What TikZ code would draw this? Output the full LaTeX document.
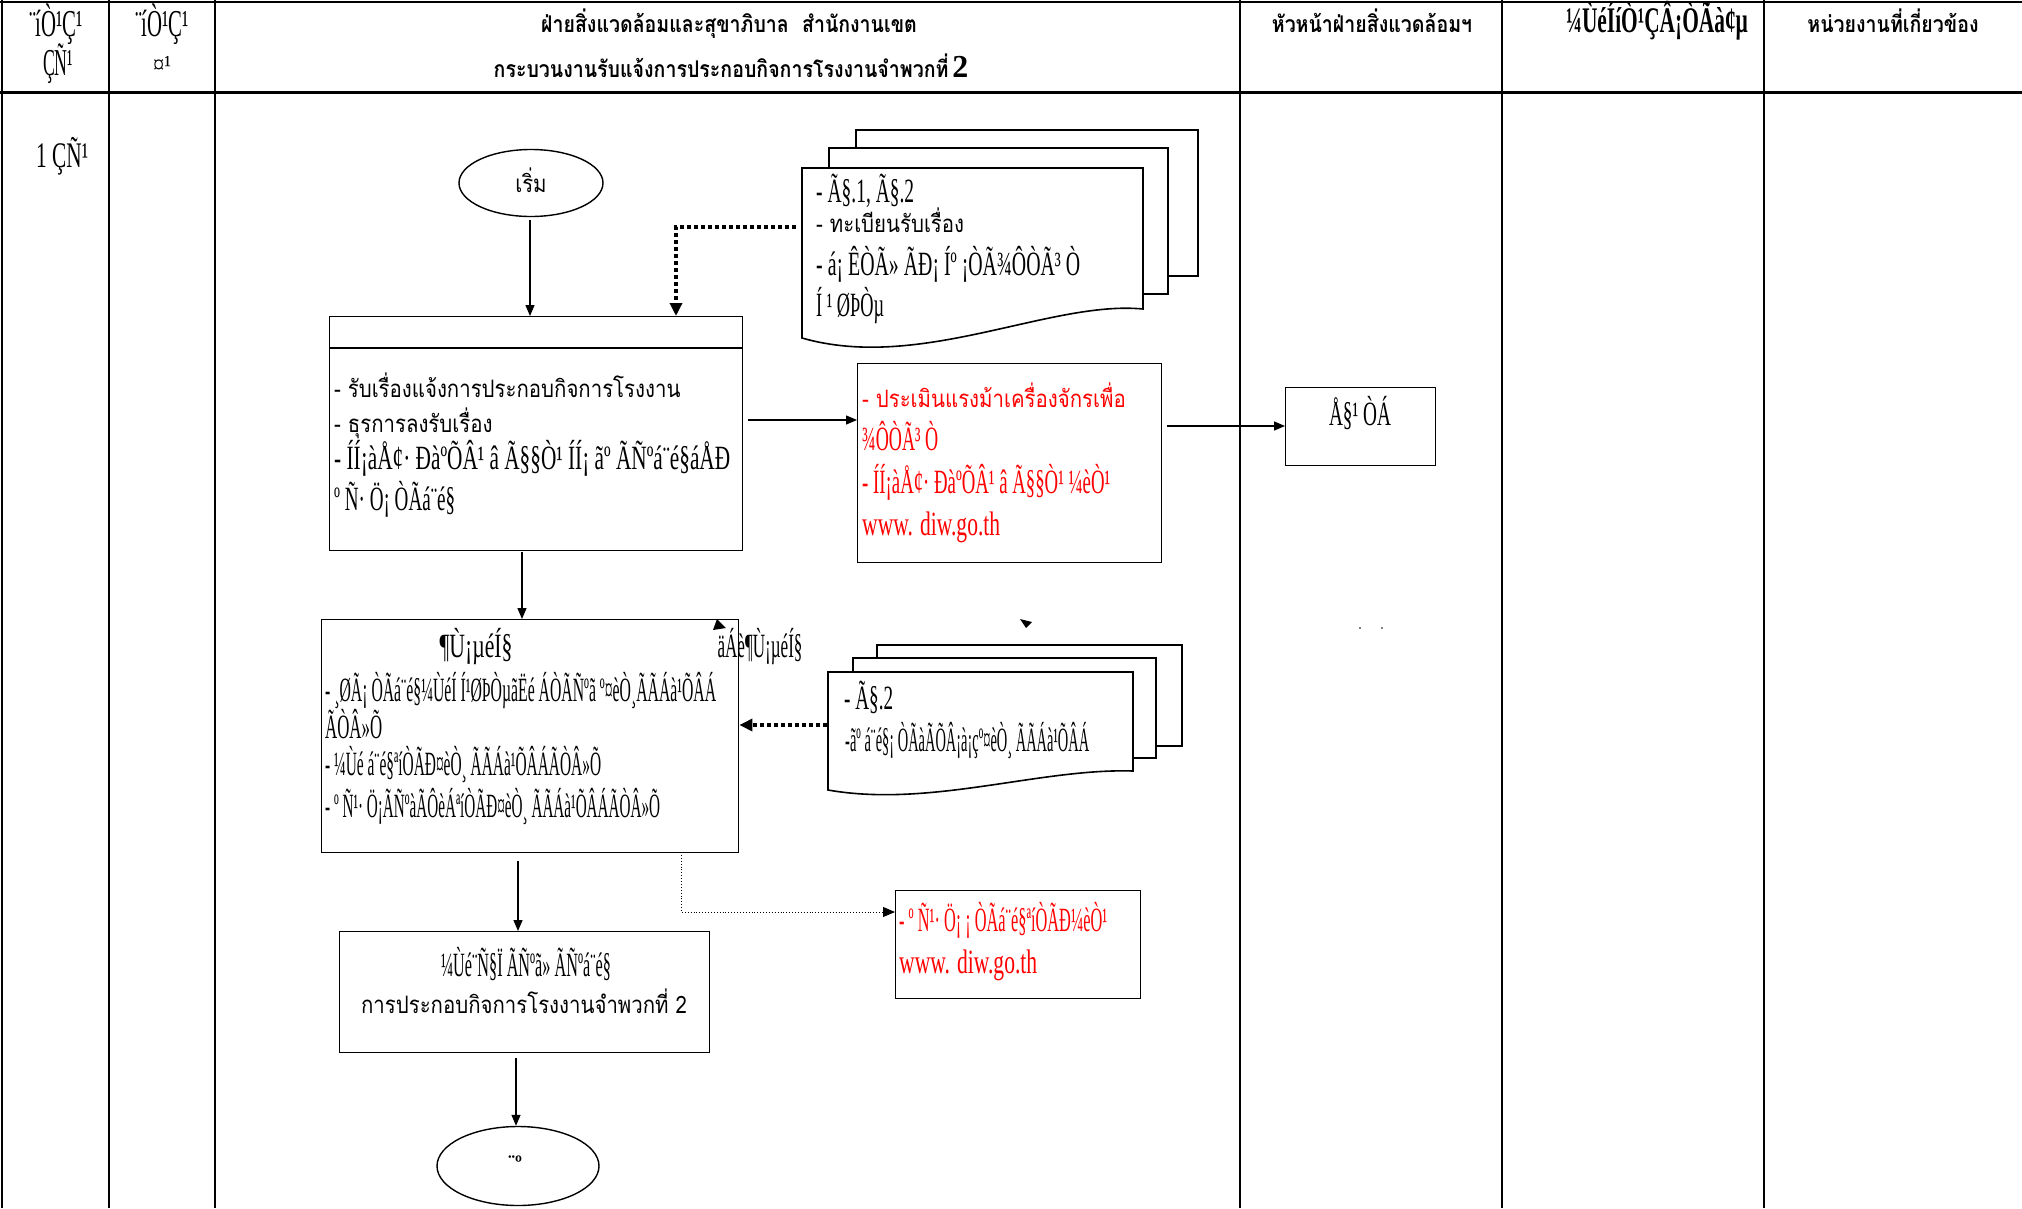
\documentclass[tikz,border=0pt]{standalone}
\usepackage{graphicx}
\usepackage{fontspec}
\setmainfont{Liberation Serif}
\newfontfamily\mjf{Liberation Serif}
\newfontfamily\thf[Script=Thai,FakeStretch=0.85]{Loma}
\usetikzlibrary{arrows.meta,shapes.geometric}
\newcommand{\fw}[2]{\resizebox{#1pt}{\height}{#2}}
\tikzset{
  grid/.style={line width=2pt},
  box/.style={draw, line width=1.4pt, inner sep=0pt, anchor=north west},
  sheet/.style={draw, line width=1.6pt, fill=white},
  ar/.style={line width=1.3pt, -{Triangle[length=11pt,width=9pt]}},
  dar/.style={line width=4pt, dash pattern=on 4pt off 3pt, -{Triangle[length=13pt,width=12pt]}},
  tar/.style={line width=0.9pt, dotted, -{Triangle[length=12pt,width=10pt]}},
  mj/.style={font=\mjf\fontsize{34}{34}\selectfont, inner sep=0pt, anchor=base west},
  th/.style={font=\thf\fontsize{24}{24}\selectfont, inner sep=0pt, anchor=base west},
  thh/.style={font=\thf\bfseries\fontsize{23}{23}\selectfont, inner sep=0pt, anchor=base},
  red/.style={text=red}
}
\begin{document}
\begin{tikzpicture}[x=1pt,y=-1pt]
\useasboundingbox (0,0) rectangle (2022,1208);
% ---- grid ----
\draw[grid] (0,2) -- (2022,2);
\draw[line width=3pt] (0,92) -- (2022,92);
\foreach \xx in {2,109,215,1240,1502,1764} \draw[grid] (\xx,0) -- (\xx,1208);
% ---- header ----
\node[mj, anchor=base, font=\mjf\fontsize{38}{38}\selectfont] (h1a) at (56,36) {\fw{54}{¨íÒ¹Ç¹}};
\node[mj, anchor=base, font=\mjf\fontsize{38}{38}\selectfont] (h1b) at (58,75) {\fw{30}{ÇÑ¹}};
\node[mj, anchor=base, font=\mjf\fontsize{38}{38}\selectfont] (h2a) at (162,36) {\fw{54}{¨íÒ¹Ç¹}};
\node[mj, anchor=base, font=\mjf\fontsize{26}{26}\selectfont] (h2b) at (162,73) {\fw{18}{¤¹}};
\node[thh] (h3a) at (729,32) {ฝ่ายสิ่งแวดล้อมและสุขาภิบาล\ \ สำนักงานเขต};
\node[thh] (h3b) at (731,77) {กระบวนงานรับแจ้งการประกอบกิจการโรงงานจำพวกที่\,{\mjf\bfseries\fontsize{32}{32}\selectfont 2}};
\node[thh] (h4) at (1372,32) {หัวหน้าฝ่ายสิ่งแวดล้อมฯ};
\node[mj, anchor=base, font=\mjf\bfseries\fontsize{36}{36}\selectfont] (h5) at (1657,32) {\fw{182}{¼ÙéÍíÒ¹ÇÂ¡ÒÃà¢µ}};
\node[thh] (h6) at (1893,32) {หน่วยงานที่เกี่ยวข้อง};
\node[mj, font=\mjf\fontsize{36}{36}\selectfont] (r1) at (36,167) {\fw{52}{1 ÇÑ¹}};
% ---- start ----
\node[draw, ellipse, line width=1.4pt, minimum width=144pt, minimum height=67pt, inner sep=0pt] (st) at (531,183) {};
\node[th, anchor=base] (stt) at (531,192) {เริ่ม};
% ---- document stack 1 ----
\draw[sheet] (856,130) rectangle (1198,276);
\draw[sheet] (829,148) rectangle (1168,294);
\draw[sheet] (802,168) -- (1143,168) -- (1143,309) .. controls (1050,300) and (920,372) .. (802,338) -- cycle;
\coordinate (d1) at (796,227);
\node[mj] (d1a) at (816,202) {\fw{98}{- Ã§.1, Ã§.2}};
\node[th] (d1b) at (816,232) {- ทะเบียนรับเรื่อง};
\node[mj] (d1c) at (816,275) {\fw{264}{- á¡ ÊÒÃ» ÃÐ¡ Íº ¡ÒÃ¾ÔÒÃ³ Ò}};
\node[mj] (d1d) at (816,316) {\fw{68}{Í ¹ ØÞÒµ}};
% ---- box 1 ----
\node[box, minimum width=413pt, minimum height=234pt] (b1) at (329,316) {};
\draw[line width=1.4pt] (329,348) -- (742,348);
\node[th] (b1a) at (334,397) {- รับเรื่องแจ้งการประกอบกิจการโรงงาน};
\node[th] (b1b) at (334,432) {- ธุรการลงรับเรื่อง};
\node[mj] (b1c) at (334,469) {\fw{396}{- ÍÍ¡àÅ¢· ÐàºÕÂ¹ â Ã§§Ò¹ ÍÍ¡ ãº ÃÑºá¨é§áÅÐ}};
\node[mj] (b1d) at (334,510) {\fw{121}{º Ñ· Ö¡ ÒÃá¨é§}};
% ---- red box 1 ----
\node[box, minimum width=304pt, minimum height=199pt] (rb1) at (857,363) {};
\node[th, red] (rb1a) at (862,407) {- ประเมินแรงม้าเครื่องจักรเพื่อ};
\node[mj, red] (rb1b) at (862,450) {\fw{76}{¾ÔÒÃ³ Ò}};
\node[mj, red] (rb1c) at (862,493) {\fw{248}{- ÍÍ¡àÅ¢· ÐàºÕÂ¹ â Ã§§Ò¹ ¼èÒ¹}};
\node[mj, red] (rb1d) at (862,535) {\fw{138}{www. diw.go.th}};
% ---- sign box ----
\node[box, minimum width=150pt, minimum height=78pt] (lg) at (1285,387) {};
\node[mj, anchor=base] (lgt) at (1360,425) {\fw{62}{Å§¹ ÒÁ}};
% ---- box 2 ----
\node[box, minimum width=417pt, minimum height=233pt] (b2) at (321,619) {};
\node[mj, anchor=base] (b2t) at (476,657) {\fw{73}{¶Ù¡µéÍ§}};
\node[mj, anchor=base] (b2n) at (760,657) {\fw{85}{äÁè¶Ù¡µéÍ§}};
\node[mj] (b2a) at (325,701) {\fw{391}{- ¸ØÃ¡ ÒÃá¨é§¼ÙéÍ Í¹ØÞÒµãËé ÁÒÃÑºã º¤èÒ¸ÃÃÁà¹ÕÂÁ}};
\node[mj] (b2b) at (325,738) {\fw{57}{ÃÒÂ»Õ}};
\node[mj] (b2c) at (325,775) {\fw{276}{- ¼Ùé á¨é§ªíÒÃÐ¤èÒ¸ ÃÃÁà¹ÕÂÁÃÒÂ»Õ}};
\node[mj] (b2d) at (325,817) {\fw{335}{- º Ñ¹· Ö¡ÃÑºàÃÔèÁªíÒÃÐ¤èÒ¸ ÃÃÁà¹ÕÂÁÃÒÂ»Õ}};
\fill (713,630) -- (726,628) -- (717,619) -- cycle;
\fill (1020,619) -- (1032,622) -- (1026,628) -- cycle;
\fill[gray] (1359,627) rectangle (1361,629);
\fill[gray] (1381,627) rectangle (1383,629);
% ---- document stack 2 ----
\draw[sheet] (877,645) rectangle (1182,746);
\draw[sheet] (853,658) rectangle (1156,758);
\draw[sheet] (828,672) -- (1133,672) -- (1133,771) .. controls (1040,768) and (930,808) .. (828,790) -- cycle;
\coordinate (d2) at (827,725);
\node[mj] (d2a) at (844,709) {\fw{49}{- Ã§.2}};
\node[mj] (d2b) at (845,751) {\fw{244}{-ãº á¨é§¡ ÒÃàÃÕÂ¡à¡çº¤èÒ¸ ÃÃÁà¹ÕÂÁ}};
% ---- red box 2 ----
\node[box, minimum width=245pt, minimum height=108pt] (rb2) at (895,890) {};
\node[mj, red] (rb2a) at (899,931) {\fw{208}{- º Ñ¹· Ö¡ ¡ ÒÃá¨é§ªíÒÃÐ¼èÒ¹}};
\node[mj, red] (rb2b) at (899,973) {\fw{138}{www. diw.go.th}};
% ---- box 3 ----
\node[box, minimum width=370pt, minimum height=121pt] (b3) at (339,931) {};
\node[mj, anchor=base] (b3a) at (526,976) {\fw{170}{¼Ùé¨Ñ§Ï ÃÑºã» ÃÑºá¨é§}};
\node[th, anchor=base] (b3b) at (524,1013) {การประกอบกิจการโรงงานจำพวกที่ 2};
% ---- end ----
\node[draw, ellipse, line width=1.4pt, minimum width=162pt, minimum height=79pt, inner sep=0pt] (en) at (518,1166) {};
\node[mj, anchor=base, font=\mjf\bfseries\fontsize{22}{22}\selectfont] (ent) at (515,1170) {\fw{14}{¨º}};
% ---- connectors ----
\coordinate (a0) at (530,220);
\draw[ar] (a0) -- (a0 |- b1.north);
\draw[dar] (d1) -- (676,227) -- (b1.north -| 676,0);
\coordinate (a1) at (748,420);
\draw[ar] (a1) -- (a1 -| rb1.west);
\coordinate (a2) at (1167,426);
\draw[ar] (a2) -- (a2 -| lg.west);
\coordinate (a3) at (522,552);
\draw[ar] (a3) -- (a3 |- b2.north);
\draw[dar] (d2) -- (d2 -| b2.east);
\coordinate (a4) at (518,861);
\draw[ar] (a4) -- (a4 |- b3.north);
\coordinate (a5) at (681,852);
\coordinate (a5b) at (681,912);
\draw[tar] (a5) -- (a5b) -- (a5b -| rb2.west);
\coordinate (a6) at (516,1058);
\draw[ar] (a6) -- (a6 |- en.north);
\end{tikzpicture}
\end{document}
